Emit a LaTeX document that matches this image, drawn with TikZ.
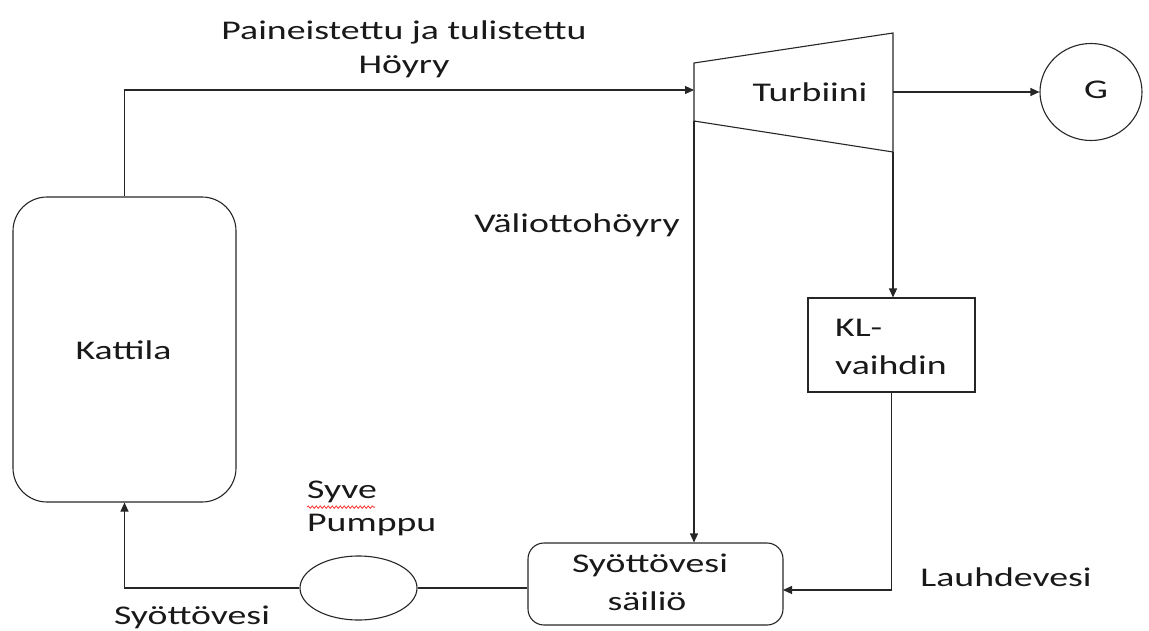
\documentclass[tikz,border=0pt]{standalone}
\usepackage{fontspec}
\setmainfont{Carlito}
\usetikzlibrary{arrows.meta,decorations.pathmorphing,shapes.geometric}
\newcommand{\sx}[1]{\scalebox{1.4}[1]{#1}}
\begin{document}
\begin{tikzpicture}[x=1pt,y=-1pt,
  lbl/.style={font=\fontsize{27}{36}\selectfont, inner sep=0pt, text=black!90},
  ln/.style={line width=1.1pt, draw=black!85},
  arr/.style={ln,-{Triangle[length=9pt,width=8pt]}},
  rbox/.style={ln, draw, rounded corners=30pt, inner sep=0pt}]
\useasboundingbox (0,0) rectangle (1149,630);
% components
\node[rbox, minimum width=223pt, minimum height=305pt, rounded corners=34pt] (kat) at (124.5,349.5) {};
\node[lbl] (katt) at (123.5,350) {\sx{Kattila}};
\coordinate (tl) at (694,63);
\coordinate (tr) at (893,33);
\coordinate (br) at (893,152);
\coordinate (bl) at (694,121);
\draw[ln, line join=miter] (tl) -- (tr) -- (br) -- (bl) -- cycle;
\node[lbl] (turb) at (810,92) {\sx{Turbiini}};
\coordinate (tin) at (694,90);
\coordinate (tout) at (893,92);
\node[ln, draw, ellipse, minimum width=102pt, minimum height=97pt, inner sep=0pt] (G) at (1091,92) {};
\node[lbl] (gt) at (1096,90) {\sx{G}};
\node[ln, draw, rectangle, minimum width=167pt, minimum height=94pt, inner sep=0pt] (kl) at (891.5,345) {};
\node[lbl, anchor=west] (klt1) at (835,328) {\sx{KL-}};
\node[lbl, anchor=west] (klt2) at (835,365) {\sx{vaihdin}};
\node[rbox, minimum width=255pt, minimum height=82pt, rounded corners=16pt] (tank) at (655.5,584) {};
\node[lbl] (tankt1) at (650,565) {\sx{Syöttövesi}};
\node[lbl] (tankt2) at (647,601) {\sx{säiliö}};
\node[ln, draw, ellipse, minimum width=117pt, minimum height=64pt, inner sep=0pt] (pump) at (358.5,588) {};
\coordinate (lin) at (783,590);
% connectors
\draw[arr] (kat.north) |- (tin);
\draw[arr] (tout) -- (G.west);
\draw[arr] (bl) -- (bl |- tank.north);
\draw[arr] (br) -- (br |- kl.north);
\draw[arr] (kl.south) |- (lin);
\draw[ln] (pump.east) -- (pump.east -| tank.west);
\draw[arr] (pump.west) -| (kat.south);
% labels
\node[lbl] (l1a) at (404,32) {\sx{Paineistettu ja tulistettu}};
\node[lbl] (l1b) at (404,67) {\sx{Höyry}};
\node[lbl] (l2) at (577,225) {\sx{Väliottohöyry}};
\node[lbl, anchor=west] (l3) at (307,492) {\sx{Syve}};
\draw[red!80, line width=0.8pt, decorate, decoration={snake, amplitude=1.2pt, segment length=4pt}] (l3.south west) ++(0,4) -- ++(68,0);
\node[lbl, anchor=west] (l4) at (307,525) {\sx{Pumppu}};
\node[lbl] (l5) at (192,617) {\sx{Syöttövesi}};
\node[lbl] (l6) at (1006,577) {\sx{Lauhdevesi}};
\end{tikzpicture}
\end{document}
